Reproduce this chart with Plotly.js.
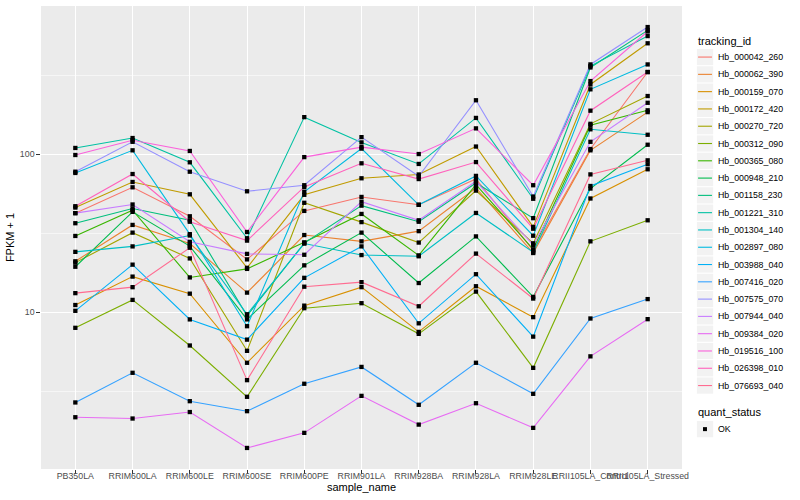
<!DOCTYPE html>
<html><head><meta charset="utf-8">
<script src="https://cdn.plot.ly/plotly-3.0.1.min.js"></script>
<style>html,body{margin:0;padding:0;background:#fff}#chart{width:800px;height:500px}</style>
</head><body><div id="chart"></div>
<script>
const sampleNames = ["PB350LA","RRIM600LA","RRIM600LE","RRIM600SE","RRIM600PE","RRIM901LA","RRIM928BA","RRIM928LA","RRIM928LE","RRII105LA_Control","RRII105LA_Stressed"];
const trackingIds = ["Hb_000042_260","Hb_000062_390","Hb_000159_070","Hb_000172_420","Hb_000270_720","Hb_000312_090","Hb_000365_080","Hb_000948_210","Hb_001158_230","Hb_001221_310","Hb_001304_140","Hb_002897_080","Hb_003988_040","Hb_007416_020","Hb_007575_070","Hb_007944_040","Hb_009384_020","Hb_019516_100","Hb_026398_010","Hb_076693_040"];
const hueColors = ["#F8766D","#EA8331","#D89000","#C09B00","#A3A500","#7CAE00","#39B600","#00BB4E","#00BF7D","#00C1A3","#00BFC4","#00BAE0","#00B0F6","#35A2FF","#9590FF","#C77CFF","#E76BF3","#FA62DB","#FF62BC","#FF6C91"];
const quantStatus = ["OK"];

const Hb_000042_260 = [42.4, 61.8, 40.5, 21.6, 43.8, 53.7, 47.9, 69.8, 24.6, 108, 332];
const Hb_000062_390 = [21.0, 35.7, 27.2, 13.3, 30.8, 28.1, 32.6, 61.2, 23.7, 106, 185];
const Hb_000159_070 = [11.1, 16.8, 13.1, 4.78, 11.0, 14.4, 7.5, 14.6, 9.3, 52.5, 80.4];
const Hb_000172_420 = [46.0, 66.8, 55.8, 19.1, 55.4, 70.5, 74.5, 112, 34.7, 277, 505];
const Hb_000270_720 = [20.6, 31.9, 21.9, 5.69, 49.3, 37.2, 27.6, 58.9, 27.3, 156, 234];
const Hb_000312_090 = [7.96, 11.96, 6.15, 2.91, 10.6, 11.4, 7.29, 13.5, 4.44, 28.1, 38.2];
const Hb_000365_080 = [30.4, 44.3, 16.6, 18.8, 27.7, 41.9, 22.9, 64.2, 25.0, 153, 190];
const Hb_000948_210 = [19.4, 43.2, 26.2, 9.0, 19.8, 31.9, 15.3, 30.2, 12.5, 60.7, 115];
const Hb_001158_230 = [36.6, 45.4, 38.2, 9.5, 27.4, 47.3, 37.4, 65.8, 39.4, 355, 610];
const Hb_001221_310 = [109.7, 126.8, 89.0, 29.4, 172, 119, 86.9, 170, 52.3, 362, 561];
const Hb_001304_140 = [24.1, 26.1, 30.6, 9.7, 27.2, 23.0, 22.6, 42.5, 24.0, 144, 133];
const Hb_002897_080 = [76.2, 106, 31.2, 8.15, 57.9, 108.7, 47.9, 73.0, 30.5, 258, 371];
const Hb_003988_040 = [10.2, 20.0, 9.0, 6.7, 16.5, 26.1, 8.5, 17.4, 7.0, 63.0, 86.5];
const Hb_007416_020 = [2.68, 4.13, 2.73, 2.36, 3.52, 4.5, 2.59, 4.78, 3.04, 9.12, 12.1];
const Hb_007575_070 = [77.6, 120, 77.6, 58.3, 63.7, 128.5, 72.6, 220, 54.0, 371, 640];
const Hb_007944_040 = [42.4, 48.1, 27.9, 23.4, 23.1, 50.1, 38.2, 67.5, 26.6, 120, 212];
const Hb_009384_020 = [2.16, 2.12, 2.33, 1.38, 1.72, 2.95, 1.94, 2.65, 1.85, 5.25, 9.03];
const Hb_019516_100 = [99.0, 122.8, 105, 32.2, 96.0, 111, 100.4, 146, 63.7, 291, 600];
const Hb_026398_010 = [46.9, 75.0, 37.4, 28.4, 62.1, 87.7, 69.7, 89.3, 33.8, 189, 332];
const Hb_076693_040 = [13.2, 14.4, 25.6, 3.71, 14.5, 15.5, 10.9, 23.5, 12.2, 74.6, 91.6];

const seriesValues = [Hb_000042_260, Hb_000062_390, Hb_000159_070, Hb_000172_420, Hb_000270_720, Hb_000312_090, Hb_000365_080, Hb_000948_210, Hb_001158_230, Hb_001221_310, Hb_001304_140, Hb_002897_080, Hb_003988_040, Hb_007416_020, Hb_007575_070, Hb_007944_040, Hb_009384_020, Hb_019516_100, Hb_026398_010, Hb_076693_040];

const yTickVals = [10, 100];
const yTickText = ["10", "100"];
const yMinorVals = [Math.pow(10, 0.5), Math.pow(10, 1.5), Math.pow(10, 2.5)];

// traces
const traces = [];
seriesValues.forEach((vals, i) => {
  traces.push({
    type: 'scatter', mode: 'lines', name: trackingIds[i],
    x: sampleNames, y: vals,
    line: {color: hueColors[i], width: 1.1},
    showlegend: false, hoverinfo: 'skip'
  });
});
const px = [], py = [];
seriesValues.forEach(vals => vals.forEach((v, j) => { px.push(sampleNames[j]); py.push(v); }));
traces.push({
  type: 'scatter', mode: 'markers', name: quantStatus[0],
  x: px, y: py,
  marker: {symbol: 'square', color: '#000000', size: 4.3},
  showlegend: false, hoverinfo: 'skip'
});

// y range with 5% expansion in log space (ggplot default)
const allLog = py.map(v => Math.log10(v));
const lo = Math.min(...allLog), hi = Math.max(...allLog);
const pad = (hi - lo) * 0.05;

// panel geometry (pixels)
const W = 800, H = 500;
const mL = 40.6, mR = 117.6, mT = 5.6, mB = 31.1;
const pw = W - mL - mR, ph = H - mT - mB;
const toPX = x => (x - mL) / pw;
const toPY = y => (H - mB - y) / ph;

// custom ggplot-style legend
const shapes = [], annotations = [];
const keyX0 = 697.3, keyX1 = 713.6, itemY0 = 56.7, itemStep = 17.3;
annotations.push({xref:'paper', yref:'paper', x: toPX(696), y: toPY(40.7), xanchor:'left', yanchor:'middle',
  text:'tracking_id', showarrow:false, font:{size:11, color:'#000'}});
trackingIds.forEach((id, i) => {
  const cy = itemY0 + i * itemStep;
  shapes.push({type:'rect', xref:'paper', yref:'paper', x0: toPX(keyX0), x1: toPX(keyX1),
    y0: toPY(cy - 8.1), y1: toPY(cy + 8.1), fillcolor:'#F2F2F2', line:{width:0}, layer:'above'});
  shapes.push({type:'line', xref:'paper', yref:'paper', x0: toPX(keyX0 + 1.2), x1: toPX(keyX1 - 1.2),
    y0: toPY(cy), y1: toPY(cy), line:{color: hueColors[i], width: 1.1}, layer:'above'});
  annotations.push({xref:'paper', yref:'paper', x: toPX(716.2), y: toPY(cy), xanchor:'left', yanchor:'middle',
    text: id, showarrow:false, font:{size:8.8, color:'#000'}});
});
annotations.push({xref:'paper', yref:'paper', x: toPX(696), y: toPY(412.3), xanchor:'left', yanchor:'middle',
  text:'quant_status', showarrow:false, font:{size:11, color:'#000'}});
const okY = 429;
shapes.push({type:'rect', xref:'paper', yref:'paper', x0: toPX(keyX0), x1: toPX(keyX1),
  y0: toPY(okY - 8.1), y1: toPY(okY + 8.1), fillcolor:'#F2F2F2', line:{width:0}, layer:'above'});
shapes.push({type:'rect', xref:'paper', yref:'paper', x0: toPX(703.4), x1: toPX(707.4),
  y0: toPY(okY - 2), y1: toPY(okY + 2), fillcolor:'#000', line:{width:0}, layer:'above'});
annotations.push({xref:'paper', yref:'paper', x: toPX(716.2), y: toPY(okY), xanchor:'left', yanchor:'middle',
  text: quantStatus[0], showarrow:false, font:{size:8.8, color:'#000'}});

const layout = {
  width: W, height: H,
  margin: {l: mL, r: mR, t: mT, b: mB, pad: 0},
  paper_bgcolor: '#FFFFFF', plot_bgcolor: '#EBEBEB',
  font: {family: 'Liberation Sans, Arial, sans-serif', color: '#000'},
  showlegend: false,
  xaxis: {
    type: 'category', categoryorder: 'array', categoryarray: sampleNames,
    range: [-0.6, sampleNames.length - 0.4],
    showgrid: true, gridcolor: '#FFFFFF', gridwidth: 1,
    zeroline: false, showline: false,
    ticks: 'outside', ticklen: 3.7, tickwidth: 1, tickcolor: '#333333',
    tickfont: {size: 8.8, color: '#4D4D4D'}, tickangle: 0,
    ticklabelstandoff: -5,
    automargin: false,
    title: {text: 'sample_name', font: {size: 11, color: '#000'}, standoff: 3}
  },
  yaxis: {
    type: 'log', range: [lo - pad, hi + pad],
    tickmode: 'array', tickvals: yTickVals, ticktext: yTickText,
    showgrid: true, gridcolor: '#FFFFFF', gridwidth: 1,
    minor: {tickmode: 'array', tickvals: yMinorVals, showgrid: true, gridcolor: '#FFFFFF', gridwidth: 0.55, ticks: ''},
    zeroline: false, showline: false,
    ticks: 'outside', ticklen: 3.7, tickwidth: 1, tickcolor: '#333333',
    tickfont: {size: 8.8, color: '#4D4D4D'},
    automargin: false,
    title: {text: 'FPKM + 1', font: {size: 11, color: '#000'}, standoff: 3}
  },
  shapes: shapes,
  annotations: annotations
};

Plotly.newPlot('chart', traces, layout, {staticPlot: true, displayModeBar: false});
</script>
</body></html>
